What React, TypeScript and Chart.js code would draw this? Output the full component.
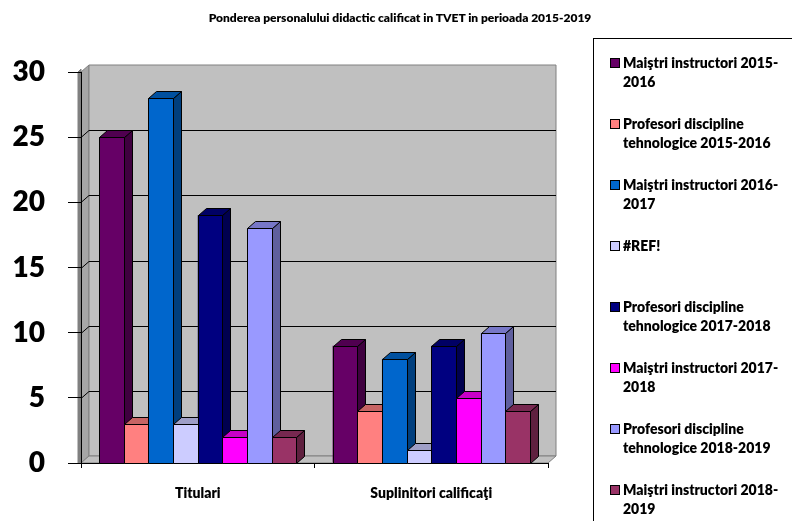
import { useEffect, useRef } from 'react';
import { Chart, registerables } from 'chart.js';

Chart.register(...registerables);

const TITLE = 'Ponderea personalului didactic calificat in TVET in perioada 2015-2019';

const CATEGORIES = ['Titulari', 'Suplinitori calificaţi'];

const SERIES_NAMES = [
  'Maiştri instructori 2015-2016',
  'Profesori discipline tehnologice 2015-2016',
  'Maiştri instructori 2016-2017',
  '#REF!',
  'Profesori discipline tehnologice 2017-2018',
  'Maiştri instructori 2017-2018',
  'Profesori discipline tehnologice 2018-2019',
  'Maiştri instructori 2018-2019',
];

const SERIES_COLORS = [
  '#660066',
  '#FF8080',
  '#0066CC',
  '#CCCCFF',
  '#000080',
  '#FF00FF',
  '#9999FF',
  '#993366',
];

// values per series, one array per category
const TITULARI = [25, 3, 28, 3, 19, 2, 18, 2];
const SUPLINITORI = [9, 4, 8, 1, 9, 5, 10, 4];

const Y_MIN = 0;
const Y_MAX = 30;
const Y_STEP = 5;

// depth offset of the pseudo-3D walls and bars
const DX = 8;
const DY = -7;

const FONT = 'Lato, "Open Sans", sans-serif';
const HEAVY = 800;

function shade(hex: string, k: number): string {
  const h = hex.replace('#', '');
  const r = Math.round(parseInt(h.slice(0, 2), 16) * k);
  const g = Math.round(parseInt(h.slice(2, 4), 16) * k);
  const b = Math.round(parseInt(h.slice(4, 6), 16) * k);
  return `rgb(${r},${g},${b})`;
}

function poly(ctx: CanvasRenderingContext2D, pts: number[][], fill: string, stroke: string) {
  ctx.beginPath();
  ctx.moveTo(pts[0][0], pts[0][1]);
  for (let i = 1; i < pts.length; i++) ctx.lineTo(pts[i][0], pts[i][1]);
  ctx.closePath();
  ctx.fillStyle = fill;
  ctx.fill();
  ctx.strokeStyle = stroke;
  ctx.lineWidth = 1;
  ctx.stroke();
}

// Back wall, side wall, floor and wall gridlines
const wallsPlugin = {
  id: 'walls3d',
  beforeDraw(chart: any) {
    const { ctx, chartArea, scales } = chart;
    const { left, right, top, bottom } = chartArea;
    const yScale = scales.y;
    ctx.save();
    // side wall thickness strip
    poly(ctx, [[left - 3, top], [left, top - 3], [left, bottom], [left - 3, bottom]], '#808080', '#808080');
    // side wall
    poly(ctx, [[left, top], [left + DX, top + DY], [left + DX, bottom + DY], [left, bottom]], '#a6a6a6', '#808080');
    // back wall
    poly(ctx, [[left + DX, top + DY], [right + DX, top + DY], [right + DX, bottom + DY], [left + DX, bottom + DY]], '#c0c0c0', '#808080');
    // floor
    poly(ctx, [[left, bottom], [left + DX, bottom + DY], [right + DX, bottom + DY], [right, bottom]], '#c0c0c0', '#808080');

    const ticks = yScale.ticks;
    ctx.strokeStyle = '#000';
    ctx.lineWidth = 1;
    for (let i = 1; i < ticks.length - 1; i++) {
      const y = Math.round(yScale.getPixelForValue(ticks[i].value)) + 0.5;
      ctx.beginPath();
      ctx.moveTo(left, y);
      ctx.lineTo(left + DX, y + DY);
      ctx.lineTo(right + DX, y + DY);
      ctx.stroke();
    }
    ctx.restore();
  },
};

// Bars with top and side faces, painted left to right
const bars3dPlugin = {
  id: 'bars3d',
  afterDatasetsDraw(chart: any) {
    const ctx: CanvasRenderingContext2D = chart.ctx;
    const nSets = chart.data.datasets.length;
    const nCats = chart.data.labels.length;
    ctx.save();
    for (let c = 0; c < nCats; c++) {
      for (let d = 0; d < nSets; d++) {
        const meta = chart.getDatasetMeta(d);
        const el = meta.data[c];
        if (!el) continue;
        const { x, y, base, width } = el.getProps(['x', 'y', 'base', 'width'], true);
        const color = chart.data.datasets[d].backgroundColor as string;
        const l = Math.round(x - width / 2) + 0.5;
        const r = Math.round(x + width / 2) + 0.5;
        const t = Math.round(y) + 0.5;
        const b = Math.round(base) + 0.5;
        poly(ctx, [[r, t], [r + DX, t + DY], [r + DX, b + DY], [r, b]], shade(color, 0.62), '#000');
        poly(ctx, [[l, t], [l + DX, t + DY], [r + DX, t + DY], [r, t]], shade(color, 0.78), '#000');
        poly(ctx, [[l, t], [r, t], [r, b], [l, b]], color, '#000');
      }
    }
    ctx.restore();
  },
};

function legendText(name: string): string {
  return name
    .replace(/^(Maiştri instructori \d{4}-)/, '$1\n')
    .replace(/^(Profesori discipline) /, '$1\n');
}

export default function App() {
  const canvasRef = useRef<HTMLCanvasElement | null>(null);

  useEffect(() => {
    const canvas = canvasRef.current;
    if (!canvas) return;
    const chart = new Chart(canvas, {
      type: 'bar',
      data: {
        labels: CATEGORIES,
        datasets: SERIES_NAMES.map((name, i) => ({
          label: name,
          data: [TITULARI[i], SUPLINITORI[i]],
          backgroundColor: SERIES_COLORS[i],
          borderColor: '#000',
          borderWidth: 0,
          categoryPercentage: 0.845,
          barPercentage: 1,
        })),
      },
      options: {
        responsive: false,
        animation: false,
        devicePixelRatio: 1,
        layout: { padding: { left: 0, right: 244, top: 72, bottom: 0 } },
        plugins: {
          legend: { display: false },
          title: { display: false },
          tooltip: { enabled: false },
        },
        scales: {
          x: {
            grid: { offset: true, drawOnChartArea: false, drawTicks: true, tickLength: 5, color: '#000' },
            border: { display: true, color: '#000', width: 1 },
            ticks: {
              color: '#000',
              font: { family: FONT, size: 14, weight: HEAVY },
              padding: 17,
              maxRotation: 0,
              autoSkip: false,
            },
            afterFit(scale: any) {
              scale.height = 58;
            },
          },
          y: {
            min: Y_MIN,
            max: Y_MAX,
            grid: { drawOnChartArea: false, drawTicks: true, tickLength: 13, color: '#000' },
            border: { display: true, color: '#000', width: 1 },
            ticks: {
              stepSize: Y_STEP,
              color: '#000',
              font: { family: FONT, size: 28, weight: HEAVY },
              padding: 23,
            },
            afterFit(scale: any) {
              scale.width = 81;
            },
          },
        },
      },
      plugins: [wallsPlugin, bars3dPlugin],
    });
    return () => chart.destroy();
  }, []);

  return (
    <div
      style={{
        position: 'absolute',
        left: 0,
        top: 0,
        width: 792,
        height: 521,
        overflow: 'hidden',
        background: '#fff',
        fontFamily: FONT,
      }}
    >
      <canvas ref={canvasRef} width={792} height={521} style={{ position: 'absolute', left: 0, top: 0 }} />
      <div
        style={{
          position: 'absolute',
          left: 4,
          top: 10,
          width: 792,
          textAlign: 'center',
          fontWeight: HEAVY,
          fontSize: 12,
          lineHeight: '16px',
          color: '#000',
        }}
      >
        {TITLE}
      </div>
      <div
        style={{
          position: 'absolute',
          left: 593,
          top: 38,
          width: 220,
          height: 520,
          border: '1px solid #000',
          boxSizing: 'border-box',
        }}
      />
      {SERIES_NAMES.map((name, i) => (
        <div key={name} style={{ position: 'absolute', left: 610, top: 53 + 61 * i }}>
          <div
            style={{
              position: 'absolute',
              left: 0,
              top: 5,
              width: 8,
              height: 8,
              border: '1px solid #000',
              background: SERIES_COLORS[i],
            }}
          />
          <div
            style={{
              position: 'absolute',
              left: 13,
              top: 0,
              width: 180,
              whiteSpace: 'pre',
              fontWeight: HEAVY,
              fontSize: 14,
              lineHeight: '19px',
              color: '#000',
            }}
          >
            {legendText(name)}
          </div>
        </div>
      ))}
    </div>
  );
}
